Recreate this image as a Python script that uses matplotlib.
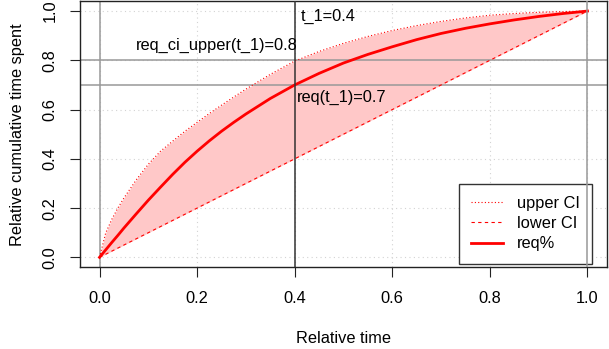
import matplotlib
matplotlib.use("Agg")
import matplotlib.pyplot as plt

plt.rcParams['font.family'] = ['Liberation Sans', 'DejaVu Sans']

# Data
rel_time = [0.0, 0.0125, 0.025, 0.0375, 0.05, 0.075, 0.1, 0.125, 0.15, 0.175,
            0.2, 0.225, 0.25, 0.275, 0.3, 0.35, 0.4, 0.45, 0.5, 0.55, 0.6,
            0.65, 0.7, 0.75, 0.8, 0.85, 0.9, 0.95, 1.0]
req = [0.0, 0.030, 0.060, 0.089, 0.119, 0.176, 0.232, 0.285, 0.337, 0.386,
       0.431, 0.473, 0.512, 0.548, 0.582, 0.645, 0.700, 0.747, 0.789, 0.824,
       0.855, 0.884, 0.909, 0.930, 0.948, 0.964, 0.978, 0.990, 1.0]
upper_ci = [0.0, 0.098, 0.154, 0.200, 0.241, 0.314, 0.378, 0.431, 0.472, 0.512,
            0.548, 0.584, 0.618, 0.651, 0.683, 0.743, 0.797, 0.836, 0.869, 0.897,
            0.921, 0.941, 0.958, 0.972, 0.983, 0.990, 0.995, 0.998, 1.0]
lower_ci = [0.0, 0.0125, 0.025, 0.0375, 0.05, 0.075, 0.1, 0.125, 0.15, 0.175,
            0.2, 0.225, 0.25, 0.275, 0.3, 0.35, 0.4, 0.45, 0.5, 0.55, 0.6,
            0.65, 0.7, 0.75, 0.8, 0.85, 0.9, 0.95, 1.0]
t_1 = 0.4
req_t1 = 0.7
upper_t1 = 0.8
ticks = [0.0, 0.2, 0.4, 0.6, 0.8, 1.0]
tick_labels = ["0.0", "0.2", "0.4", "0.6", "0.8", "1.0"]

fig = plt.figure(figsize=(6.09, 3.49), dpi=100)
ax = fig.add_axes([80/609, 1 - 267.2/349, (607-80)/609, (267.2-1.2)/349])
ax.set_xlim(-0.04, 1.04)
ax.set_ylim(-0.04, 1.04)

# grid
for t in ticks:
    ax.axvline(t, color='#d3d3d3', lw=0.8, ls=(0, (1, 3)), zorder=0.5)
    ax.axhline(t, color='#d3d3d3', lw=0.8, ls=(0, (1, 3)), zorder=0.5)

ax.fill_between(rel_time, lower_ci, upper_ci, color='#FFC8C8', lw=0, zorder=1)
ax.plot(rel_time, upper_ci, color='red', lw=0.8, ls=(0, (1, 2)), zorder=3, label='upper CI')
ax.plot(rel_time, lower_ci, color='red', lw=0.8, ls=(0, (3, 3)), zorder=3, label='lower CI')
ax.plot(rel_time, req, color='red', lw=2, zorder=4, label='req%')

ax.axvline(0, color='#999999', lw=1.1, zorder=2)
ax.axvline(1, color='#999999', lw=1.1, zorder=7)
ax.axhline(req_t1, color='#999999', lw=1.1, zorder=2)
ax.axhline(upper_t1, color='#999999', lw=1.1, zorder=2)
ax.axvline(t_1, color='#333333', lw=1.1, zorder=5)

fs = 11.8
ax.text(0.413, 0.98, "t_1=%.1f" % t_1, ha='left', va='center', fontsize=fs, zorder=8)
ax.text(0.405, 0.86, "req_ci_upper(t_1)=%.1f" % upper_t1, ha='right', va='center', fontsize=fs, zorder=8)
ax.text(0.405, 0.651, "req(t_1)=%.1f" % req_t1, ha='left', va='center', fontsize=fs, zorder=8)

ax.set_xticks(ticks)
ax.set_xticklabels(tick_labels)
ax.set_yticks(ticks)
ax.set_yticklabels(tick_labels, rotation=90, va='center')
ax.tick_params(axis='both', direction='out', length=7, width=0.8, labelsize=fs, color='#222222')
ax.tick_params(axis='x', pad=10)
ax.tick_params(axis='y', pad=9)
for sp in ax.spines.values():
    sp.set_linewidth(1.0)
    sp.set_color('#222222')

ax.set_xlabel("Relative time", fontsize=fs, labelpad=18)
ax.set_ylabel("Relative cumulative time spent", fontsize=fs, labelpad=13)

leg = ax.legend(loc='lower right', bbox_to_anchor=((592.3-80)/527, (267.2-263.7)/266),
                fontsize=fs, frameon=True, fancybox=False, handlelength=1.95,
                handletextpad=0.85, borderpad=0.75, labelspacing=0.32, borderaxespad=0)
leg.get_frame().set_edgecolor('#333333')
leg.get_frame().set_linewidth(1.0)
leg.get_frame().set_alpha(1)
leg.set_zorder(6)

fig.savefig("out.png", dpi=100)
